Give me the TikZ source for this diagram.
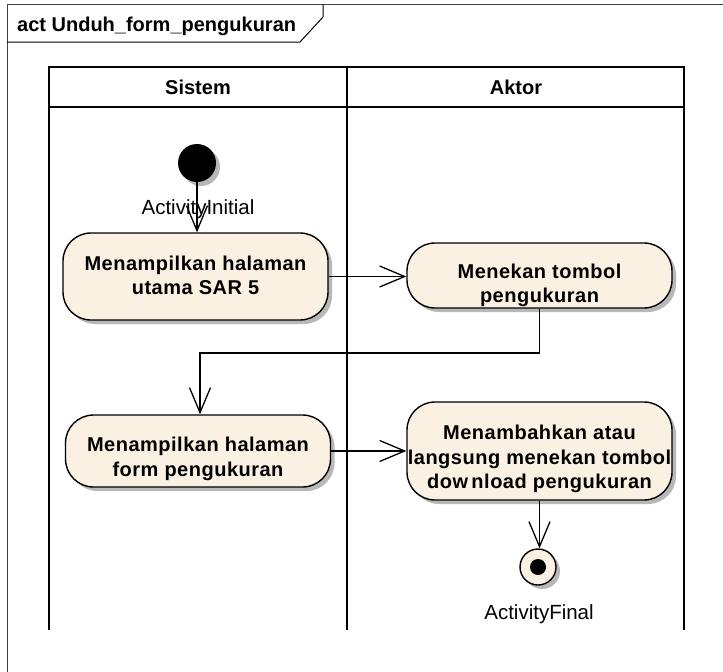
\documentclass[tikz,border=0pt]{standalone}
\usepackage{fontspec}
\setmainfont{Liberation Sans}
\usetikzlibrary{arrows.meta,shadows}
\definecolor{actfill}{RGB}{251,241,226}
\begin{document}
\begin{tikzpicture}[x=1pt,y=-1pt,
  shade/.style={drop shadow={shadow xshift=4pt,shadow yshift=-4pt,fill=black!28,opacity=1}},
  actbox/.style={draw=black,line width=1.4pt,fill=actfill,rounded corners=28pt,shade,minimum width=265pt,inner sep=0pt},
  acttext/.style={font=\fontsize{20}{24.5}\selectfont\bfseries\addfontfeature{LetterSpace=2.5},align=center,inner sep=0pt},
  lbl/.style={font=\fontsize{20.5}{24}\selectfont,inner sep=0pt,anchor=base},
  hdr/.style={font=\fontsize{20}{24}\selectfont\bfseries,inner sep=0pt,anchor=base},
  flow/.style={line width=1.3pt,-{Straight Barb[length=25pt,width=21pt,line width=1.3pt]}},
  lane/.style={line width=1.8pt}]
\useasboundingbox (0,0) rectangle (723,672);
% frame
\draw[line width=1pt,black!75] (7,672) -- (7,4.5) -- (723,4.5);
\draw[line width=1pt] (7,42) -- (300,42) -- (323,17) -- (323,4.5);
\node[hdr,anchor=base west] (title) at (17,31) {act Unduh\_form\_pengukuran};
% swimlanes
\draw[lane] (49,67) rectangle (684,107);
\draw[lane] (49,67) -- (49,630);
\draw[lane] (347,67) -- (347,630);
\draw[lane] (684,67) -- (684,630);
\node[hdr] (hs) at (198,94) {Sistem};
\node[hdr] (ha) at (516,94) {Aktor};
% initial
\node[circle,fill=black,minimum size=38pt,inner sep=0pt,shade] (init) at (197,163) {};
\node[lbl] (initlbl) at (198,214) {ActivityInitial};
% actions
\node[actbox,minimum height=87pt] (a1) at (195.5,276.5) {};
\node[acttext] (t1) at ([yshift=1pt]a1.center) {Menampilkan halaman\\utama SAR 5};
\node[actbox,minimum height=65pt] (a2) at (539.5,275.5) {};
\node[acttext] (t2) at ([yshift=-10pt]a2.center) {Menekan tombol\\pengukuran};
\node[actbox,minimum height=72pt] (a3) at (198,451) {};
\node[acttext] (t3) at ([yshift=-8pt]a3.center) {Menampilkan halaman\\form pengukuran};
\node[actbox,minimum height=98pt] (a4) at (539.5,451) {};
\node[acttext] (t4) at ([yshift=-8pt]a4.center) {Menambahkan atau\\langsung menekan tombol\\dow\,nload pengukuran};
% final
\node[circle,draw=black,line width=1.4pt,fill=actfill,minimum size=36pt,inner sep=0pt,shade] (fin) at (538,567) {};
\node[circle,fill=black,minimum size=16pt,inner sep=0pt] (findot) at (fin.center) {};
\node[lbl] (finlbl) at (539,619) {ActivityFinal};
% connectors
\coordinate (bend) at (200,353);
\draw[flow] (init.south) -- (init.south |- a1.north);
\draw[flow] (a1.east) -- (a1.east -| a2.west);
\draw[flow] (a2.south) |- (bend) -- (bend |- a3.north);
\draw[flow] (a3.east) -- (a3.east -| a4.west);
\draw[flow] (a4.south) -- (a4.south |- fin.north);
\end{tikzpicture}
\end{document}
